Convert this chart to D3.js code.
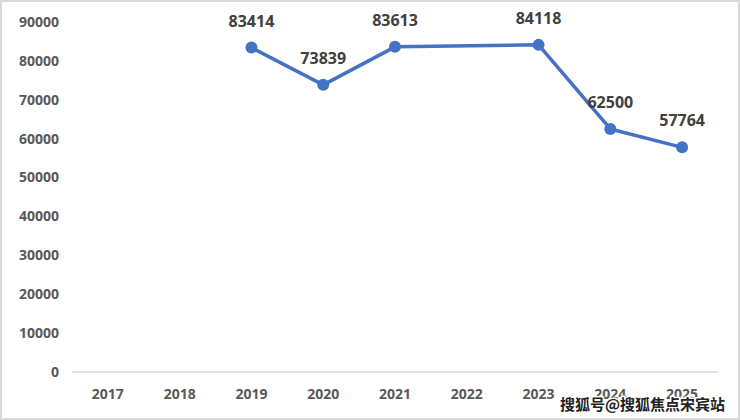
<!DOCTYPE html>
<html>
<head>
<meta charset="utf-8">
<script src="https://cdn.jsdelivr.net/npm/d3@7"></script>
<style>
body{margin:0;background:#fff;}
svg{display:block;font-family:"Open Sans","Liberation Sans",sans-serif;}
</style>
</head>
<body>
<div id="chart"></div>
<script>
// Years on the x axis, values only where the picture has a point.
var years = ["2017","2018","2019","2020","2021","2022","2023","2024","2025"];
var pointYears = ["2019","2020","2021","2023","2024","2025"];
var pointValues = [83414, 73839, 83613, 84118, 62500, 57764];
var yTicks = [0,10000,20000,30000,40000,50000,60000,70000,80000,90000];

var W = 740, H = 420;
var svg = d3.select("#chart").append("svg").attr("width", W).attr("height", H);

// outer frame
svg.append("rect").attr("x",1).attr("y",1).attr("width",W-2).attr("height",H-2)
	.attr("fill","#fff").attr("stroke","#d9d9d9").attr("stroke-width",2);

var x = d3.scaleBand().domain(years).range([72, 718]);
var y = d3.scaleLinear().domain([0, 90000]).range([372, 22]);

// y tick labels (no axis line, no grid)
svg.selectAll(".ytick").data(yTicks).enter().append("text")
	.attr("x", 59).attr("y", function(d){ return y(d); })
	.attr("dy", "0.35em").attr("text-anchor","end")
	.attr("font-size", 14).attr("font-weight","bold").attr("fill","#595959")
	.text(String);

// base line
svg.append("line").attr("x1",72).attr("x2",718).attr("y1",y(0)).attr("y2",y(0))
	.attr("stroke","#d9d9d9").attr("stroke-width",1.5);

// category labels
svg.selectAll(".xtick").data(years).enter().append("text")
	.attr("x", function(d){ return x(d) + x.bandwidth()/2; })
	.attr("y", 399).attr("text-anchor","middle")
	.attr("font-size", 14).attr("font-weight","bold").attr("fill","#595959")
	.text(String);

var pts = pointYears.map(function(d, i){ return {year:d, value:pointValues[i]}; });
var line = d3.line()
	.x(function(d){ return x(d.year) + x.bandwidth()/2; })
	.y(function(d){ return y(d.value); });

svg.append("path").datum(pts).attr("d", line)
	.attr("fill","none").attr("stroke","#4472c4").attr("stroke-width",3.5)
	.attr("stroke-linejoin","round");

svg.selectAll(".dot").data(pts).enter().append("circle")
	.attr("cx", function(d){ return x(d.year) + x.bandwidth()/2; })
	.attr("cy", function(d){ return y(d.value); })
	.attr("r", 6).attr("fill","#4472c4");

// value labels above points
svg.selectAll(".val").data(pts).enter().append("text")
	.attr("x", function(d){ return x(d.year) + x.bandwidth()/2; })
	.attr("y", function(d){ return y(d.value) - 21; })
	.attr("text-anchor","middle")
	.attr("font-size", 16).attr("font-weight","bold").attr("fill","#404040")
	.text(function(d){ return d.value; });

// watermark
svg.append("text").attr("x", 725).attr("y", 410).attr("text-anchor","end")
	.attr("font-family","'Noto Sans CJK SC',sans-serif")
	.attr("font-size", 15).attr("font-weight","bold")
	.attr("fill","#222").attr("stroke","#fff").attr("stroke-width",3)
	.attr("paint-order","stroke")
	.text("搜狐号@搜狐焦点宋宾站");
</script>
</body>
</html>
